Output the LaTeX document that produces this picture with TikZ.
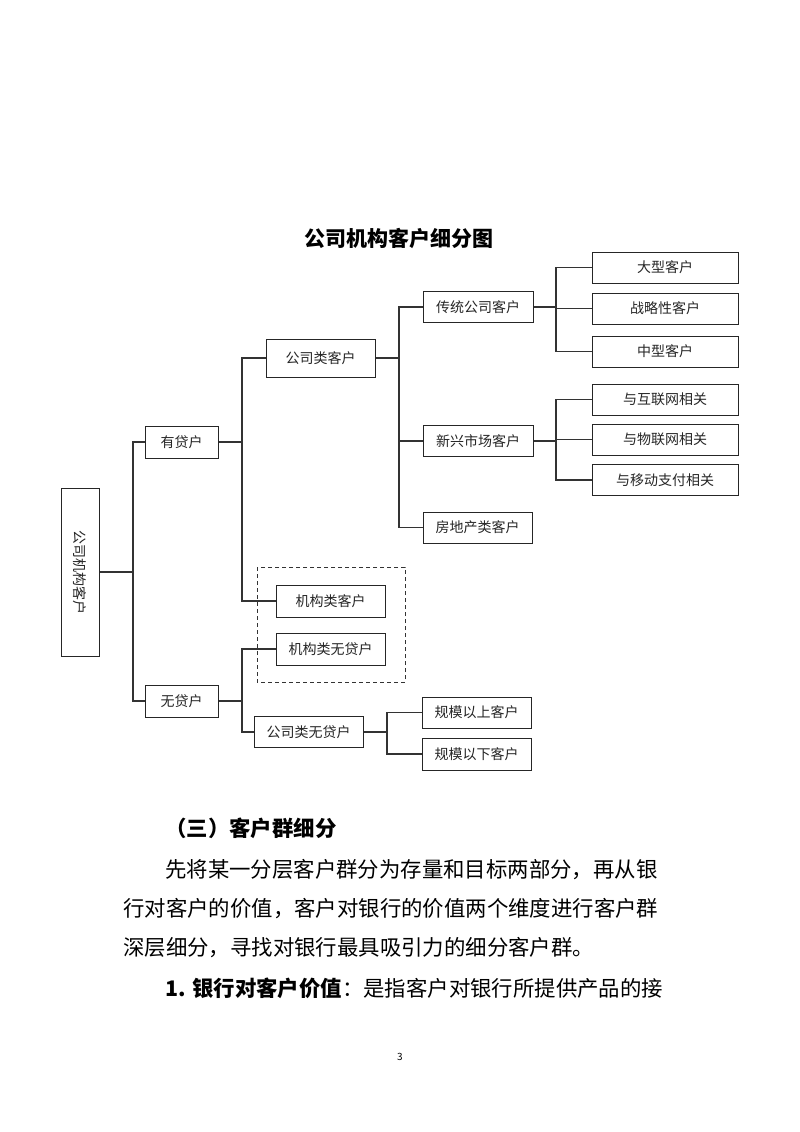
\documentclass[tikz,border=0pt]{standalone}
\usepackage{fontspec}
\newfontfamily\cjk{Noto Sans CJK SC}
\begin{document}
\begin{tikzpicture}[x=1pt,y=-1pt,
  box/.style={draw=black!85, line width=1pt, inner sep=0pt, minimum height=31pt,
    font=\cjk\fontsize{14}{14}\selectfont, text=black!85},
  link/.style={draw=black!80, line width=1.1pt},
  body/.style={anchor=west, inner sep=0pt, font=\cjk\fontsize{21.4}{21.4}\selectfont}]
\useasboundingbox[fill=white] (0,0) rectangle (800,1132);

% title
\node[inner sep=0pt, font=\cjk\bfseries\fontsize{21}{21}\selectfont] (title) at (399,238) {公司机构客户细分图};

% nodes
\node[box, minimum width=38pt, minimum height=168pt] (r) at (80,572) {\rotatebox{-90}{公司机构客户}};
\node[box, minimum width=73pt, minimum height=32pt] (a) at (181.5,442) {有贷户};
\node[box, minimum width=73pt, minimum height=32pt] (b) at (181.5,701) {无贷户};
\node[box, minimum width=109pt, minimum height=38pt] (c) at (320.5,358) {公司类客户};
\node[box, minimum width=109pt, minimum height=32pt] (d) at (330.5,601) {机构类客户};
\node[box, minimum width=109pt, minimum height=32pt] (e) at (330.5,649) {机构类无贷户};
\node[box, minimum width=109pt] (f) at (308.5,732) {公司类无贷户};
\node[box, minimum width=110pt] (g) at (478,307) {传统公司客户};
\node[box, minimum width=110pt] (h) at (478,441) {新兴市场客户};
\node[box, minimum width=109pt] (i) at (477.5,527.5) {房地产类客户};
\node[box, minimum width=146pt] (j) at (665,267.5) {大型客户};
\node[box, minimum width=146pt] (k) at (665,308.5) {战略性客户};
\node[box, minimum width=146pt] (l) at (665,351.5) {中型客户};
\node[box, minimum width=146pt] (m) at (665,399.5) {与互联网相关};
\node[box, minimum width=146pt] (n) at (665,439.5) {与物联网相关};
\node[box, minimum width=146pt] (o) at (665,480) {与移动支付相关};
\node[box, minimum width=109pt] (p) at (476.5,712.5) {规模以上客户};
\node[box, minimum width=109pt, minimum height=32pt] (q) at (476.5,754) {规模以下客户};

% dashed group
\draw[draw=black!80, line width=1pt, dash pattern=on 4pt off 3pt] (257,567) rectangle (405,682);

% junctions
\coordinate (j1) at (133,572);
\coordinate (j2) at (242,442);
\coordinate (j3) at (242,701);
\coordinate (j4) at (399,358);
\coordinate (j5) at (556,307);
\coordinate (j6) at (556,441);
\coordinate (j7) at (387,732);

% connectors
\path[link] (r.east) -- (j1) (j1) |- (a.west) (j1) |- (b.west);
\path[link] (a.east) -- (j2) (j2) |- (c.west) (j2) |- (d.west);
\path[link] (b.east) -- (j3) (j3) |- (e.west) (j3) |- (f.west);
\path[link] (c.east) -- (j4) (j4) |- (g.west) (j4) |- (h.west) (j4) |- (i.west);
\path[link] (g.east) -- (j5) (j5) |- (j.west) (j5) |- (k.west) (j5) |- (l.west);
\path[link] (h.east) -- (j6) (j6) |- (m.west) (j6) |- (n.west) (j6) |- (o.west);
\path[link] (f.east) -- (j7) (j7) |- (p.west) (j7) |- (q.west);

% body text
\node[body, font=\cjk\bfseries\fontsize{21.4}{21.4}\selectfont] (t0) at (165,828) {（三）客户群细分};
\node[body] (t1) at (165,870) {先将某一分层客户群分为存量和目标两部分，再从银};
\node[body] (t2) at (123,909) {行对客户的价值，客户对银行的价值两个维度进行客户群};
\node[body] (t3) at (123,948) {深层细分，寻找对银行最具吸引力的细分客户群。};
\node[body] (t4) at (165,988) {{\bfseries 1. 银行对客户价值}：是指客户对银行所提供产品的接};
\node[inner sep=0pt, font=\cjk\fontsize{10}{10}\selectfont] (pg) at (400,1057) {3};
\end{tikzpicture}
\end{document}
